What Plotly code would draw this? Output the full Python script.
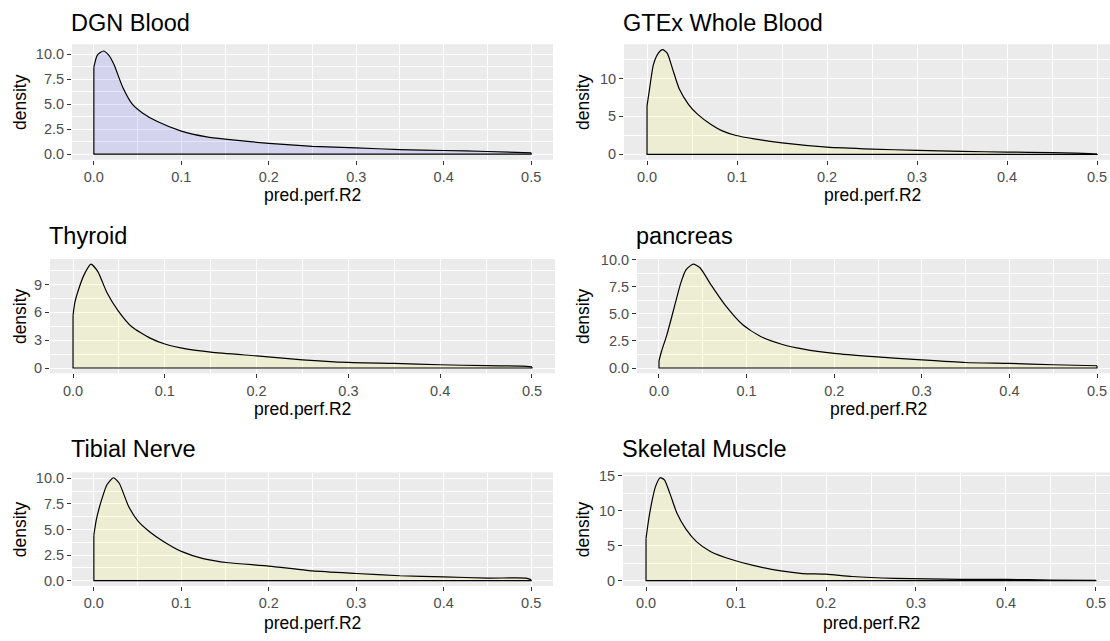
import plotly.graph_objects as go

# Density estimates of prediction performance (R2) per tissue
dgn_x = [0, 0.004, 0.011, 0.017, 0.023, 0.033, 0.044, 0.056, 0.072, 0.1, 0.129, 0.15, 0.2, 0.25, 0.3, 0.35, 0.4, 0.45, 0.5]
dgn_y = [8.7, 9.9, 10.32, 9.9, 8.96, 6.7, 5.0, 4.09, 3.28, 2.3, 1.72, 1.49, 1.07, 0.78, 0.62, 0.45, 0.36, 0.26, 0.13]

gtex_x = [0, 0.003, 0.007, 0.0126, 0.0173, 0.0224, 0.028, 0.036, 0.046, 0.056, 0.0715, 0.083, 0.099, 0.119, 0.15, 0.2, 0.25, 0.3, 0.35, 0.4, 0.45, 0.476, 0.5]
gtex_y = [6.4, 8.8, 11.8, 13.35, 13.8, 13.35, 11.4, 8.57, 6.6, 5.3, 3.9, 3.13, 2.48, 2.04, 1.52, 0.96, 0.7, 0.52, 0.39, 0.3, 0.22, 0.17, 0.04]

thyroid_x = [0, 0.002, 0.006, 0.012, 0.0195, 0.027, 0.037, 0.049, 0.064, 0.084, 0.1, 0.123, 0.15, 0.2, 0.25, 0.3, 0.35, 0.4, 0.45, 0.49, 0.5]
thyroid_y = [5.67, 7.07, 8.47, 10.05, 11.2, 10.4, 8.12, 6.2, 4.45, 3.22, 2.59, 2.07, 1.72, 1.3, 0.88, 0.6, 0.49, 0.35, 0.25, 0.21, 0.12]

pancreas_x = [0, 0.003, 0.009, 0.017, 0.025, 0.031, 0.039, 0.047, 0.059, 0.076, 0.096, 0.116, 0.14, 0.165, 0.2, 0.245, 0.3, 0.35, 0.4, 0.45, 0.5]
pancreas_y = [0.66, 1.57, 3.07, 5.48, 7.9, 9.1, 9.6, 9.25, 7.74, 5.78, 3.98, 2.92, 2.2, 1.75, 1.35, 1.05, 0.75, 0.51, 0.42, 0.3, 0.21]

tibial_x = [0, 0.003, 0.009, 0.015, 0.0224, 0.029, 0.0395, 0.05, 0.064, 0.08, 0.1, 0.125, 0.154, 0.2, 0.25, 0.3, 0.35, 0.4, 0.45, 0.494, 0.5]
tibial_y = [4.44, 6.03, 7.94, 9.37, 10.06, 9.52, 7.3, 5.87, 4.76, 3.81, 2.86, 2.16, 1.75, 1.43, 0.95, 0.7, 0.48, 0.38, 0.25, 0.25, 0.1]

muscle_x = [0, 0.003, 0.007, 0.0106, 0.0157, 0.0204, 0.0263, 0.034, 0.044, 0.056, 0.0715, 0.095, 0.119, 0.15, 0.174, 0.2, 0.229, 0.276, 0.35, 0.4, 0.45, 0.5]
muscle_y = [6.04, 8.8, 11.6, 13.47, 14.7, 14.4, 12.54, 9.75, 7.43, 5.57, 4.18, 3.02, 2.18, 1.39, 1.02, 0.93, 0.6, 0.33, 0.19, 0.19, 0.09, 0.06]

titles = ["DGN Blood", "GTEx Whole Blood", "Thyroid", "pancreas", "Tibial Nerve", "Skeletal Muscle"]
x_ticks = [0.0, 0.1, 0.2, 0.3, 0.4, 0.5]
x_minor = [0.05, 0.15, 0.25, 0.35, 0.45]
y_ticks = [
    [0, 2.5, 5, 7.5, 10],
    [0, 5, 10],
    [0, 3, 6, 9],
    [0, 2.5, 5, 7.5, 10],
    [0, 2.5, 5, 7.5, 10],
    [0, 5, 10, 15],
]
y_formats = [".1f", "d", "d", ".1f", ".1f", "d"]

series = [(dgn_x, dgn_y), (gtex_x, gtex_y), (thyroid_x, thyroid_y),
          (pancreas_x, pancreas_y), (tibial_x, tibial_y), (muscle_x, muscle_y)]
fills = ["rgba(0,0,255,0.1)"] + ["rgba(255,255,0,0.1)"] * 5

W, H = 1110, 641
# panel rectangles in pixels: left, right, top, bottom
panels = [
    (72, 553, 38, 155),
    (624, 1110, 38, 155),
    (50, 555, 256, 372),
    (637, 1110, 256, 372),
    (72, 553, 473, 588),
    (623, 1110, 473, 588),
]
x_ranges = [
    [-0.025, 0.525],
    [-0.0256, 0.5144],
    [-0.0251, 0.5251],
    [-0.0251, 0.5148],
    [-0.025, 0.525],
    [-0.0256, 0.5156],
]
y_ranges = [
    [-0.55, 10.98],
    [-0.69, 14.49],
    [-0.56, 11.76],
    [-0.48, 10.08],
    [-0.503, 10.56],
    [-0.735, 15.43],
]
title_y = [16, 16, 233, 233, 449, 449]
xlabel_y = [191, 191, 408, 408, 626, 626]
ylabel_x = [20, 583, 20, 583, 20, 583]

FAMILY = "Liberation Sans, Arial, sans-serif"
TICK_FONT = dict(family=FAMILY, size=14.5, color="#4D4D4D")
TITLE_FONT = dict(family=FAMILY, size=23.5, color="black")
AXIS_FONT = dict(family=FAMILY, size=17.5, color="black")

fig = go.Figure()
layout = dict(
    width=W, height=H,
    margin=dict(l=0, r=0, t=0, b=0),
    paper_bgcolor="white",
    showlegend=False,
    annotations=[],
    shapes=[],
)

for i, ((xs, ys), (l, r, t, b)) in enumerate(zip(series, panels)):
    n = "" if i == 0 else str(i + 1)
    xa, ya = "x" + n, "y" + n
    # filled density area
    fig.add_trace(go.Scatter(
        x=xs, y=ys, xaxis=xa, yaxis=ya, mode="lines",
        line=dict(color="black", width=1.2, shape="spline", smoothing=0.6),
        fill="tozeroy", fillcolor=fills[i], hoverinfo="skip",
    ))
    # outline of the area: vertical ends and baseline
    fig.add_trace(go.Scatter(
        x=[xs[0], xs[0], xs[-1], xs[-1]], y=[ys[0], 0, 0, ys[-1]],
        xaxis=xa, yaxis=ya, mode="lines",
        line=dict(color="black", width=1.2), hoverinfo="skip",
    ))

    dom_x = [l / W, r / W]
    dom_y = [1 - b / H, 1 - t / H]
    layout["xaxis" + n] = dict(
        domain=dom_x, anchor=ya, range=x_ranges[i],
        tickmode="array", tickvals=x_ticks, tickformat=".1f",
        showgrid=True, gridcolor="white", gridwidth=1.4,
        minor=dict(tickmode="array", tickvals=x_minor,
                   showgrid=True, gridcolor="white", gridwidth=0.7, ticklen=0),
        ticks="outside", ticklen=4, tickwidth=1, tickcolor="#333333",
        tickfont=TICK_FONT, zeroline=False, showline=False, fixedrange=True,
    )
    yt = y_ticks[i]
    step = yt[1] - yt[0]
    minor_vals = [v + step / 2 for v in yt]
    layout["yaxis" + n] = dict(
        domain=dom_y, anchor=xa, range=y_ranges[i],
        tickmode="array", tickvals=yt, tickformat=y_formats[i],
        showgrid=True, gridcolor="white", gridwidth=1.4,
        minor=dict(tickmode="array", tickvals=minor_vals,
                   showgrid=True, gridcolor="white", gridwidth=0.7, ticklen=0),
        ticks="outside", ticklen=4, tickwidth=1, tickcolor="#333333",
        tickfont=TICK_FONT, zeroline=False, showline=False, fixedrange=True,
    )
    # grey panel background
    layout["shapes"].append(dict(
        type="rect", xref="paper", yref="paper", layer="below",
        x0=dom_x[0], x1=dom_x[1], y0=dom_y[0], y1=dom_y[1],
        fillcolor="#EBEBEB", line=dict(width=0),
    ))
    # panel title
    layout["annotations"].append(dict(
        text=titles[i], xref="paper", yref="paper", showarrow=False,
        x=(l - 3) / W, y=1 - title_y[i] / H, xanchor="left", yanchor="middle",
        font=TITLE_FONT,
    ))
    # axis titles, x label centred on the panel's middle value
    layout["annotations"].append(dict(
        text="pred.perf.R2", xref=xa, yref="paper", showarrow=False,
        x=0.25, y=1 - xlabel_y[i] / H, xanchor="center", yanchor="middle",
        font=AXIS_FONT,
    ))
    layout["annotations"].append(dict(
        text="density", xref="paper", yref="paper", showarrow=False,
        x=ylabel_x[i] / W, y=1 - (t + b) / 2 / H, xanchor="center", yanchor="middle",
        textangle=-90, font=AXIS_FONT,
    ))

fig.update_layout(**layout)
fig.write_html("out.html")
